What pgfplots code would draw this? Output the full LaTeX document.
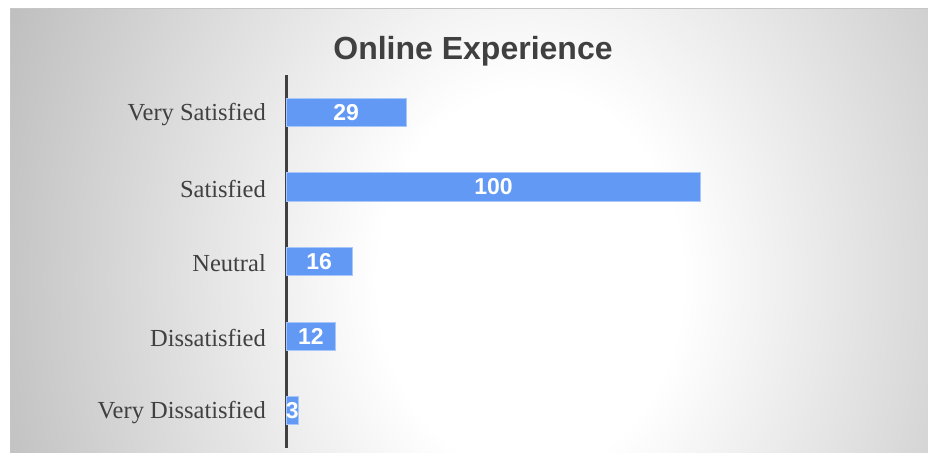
\documentclass[border=0pt]{standalone}
\usepackage{fontspec}
\setmainfont{Liberation Serif}
\newfontfamily\arial{Liberation Sans}
\usepackage{pgfplots}
\pgfplotsset{compat=1.18}
\definecolor{barblue}{HTML}{6199F5}
\definecolor{baredge}{HTML}{A9C6F8}
\definecolor{ink}{HTML}{404040}
\definecolor{bgedge}{HTML}{A0A0A0}
% stops in 0..25bp: 25bp is the edge of the shaded rectangle
\pgfdeclareradialshading{bgrad}{\pgfpoint{0bp}{0bp}}{%
  color(0bp)=(white); color(5bp)=(white); color(25bp)=(bgedge); color(50bp)=(bgedge)}

\begin{document}
\begin{tikzpicture}[x=1bp,y=1bp]
\path[use as bounding box] (0,0) rectangle (928,455);
\fill[white] (0,0) rectangle (928,455);
% background panel, light in the middle
\begin{scope}
  \clip (10,2) rectangle (928,446);
  \shade[shading=bgrad] (-230,-775) rectangle (1290,1125);
\end{scope}
\draw[gray!45, line width=1bp] (10.5,2) -- (10.5,446) -- (928,446);

\begin{axis}[
    at={(286bp,7bp)}, anchor=south west, scale only axis,
    width=614bp, height=373bp,
    xbar, bar width=0.376, bar shift=0pt,
    xmin=0, xmax=148, ymin=-0.5, ymax=4.5,
    axis x line=none, axis y line*=left,
    y axis line style={-, ink, line width=3bp},
    ytick={0,...,4},
    yticklabels={Very Dissatisfied,Dissatisfied,Neutral,Satisfied,Very Satisfied},
    major tick length=0pt,
    y tick label style={font=\fontsize{24.5bp}{28bp}\selectfont, text=ink,
        inner sep=0pt, xshift=-20bp, yshift=-2bp},
    clip=false,
    point meta=x,
    nodes near coords={\pgfmathprintnumber[assume math mode=true]{\pgfplotspointmeta}},
    visualization depends on={rawx \as \rawx},
    every node near coord/.append style={anchor=center,
        shift={(axis direction cs:-0.5*\rawx,0)}, text=white,
        font=\arial\bfseries\fontsize{23bp}{25bp}\selectfont},
]
\addplot[fill=barblue, draw=baredge, line width=0.8bp] coordinates {
  (29,4) (100,3) (16,2) (12,1) (3,0)};
\end{axis}

\node[font=\arial\bfseries\fontsize{32bp}{36bp}\selectfont, text=ink]
  at (473,404) {Online Experience};
\end{tikzpicture}
\end{document}
